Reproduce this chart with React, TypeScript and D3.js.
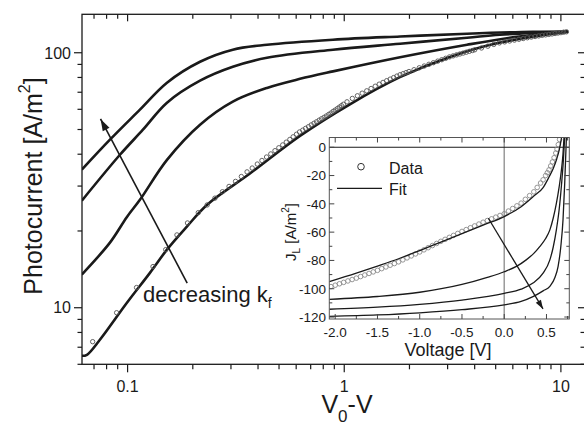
import React from 'react';
import * as d3 from 'd3';

// ---------- Main plot data (V0-V [V], photocurrent [A/m^2]) ----------
const curve1X = [0.0615, 0.0829, 0.114, 0.152, 0.216, 0.306, 0.44, 0.887, 1.81, 3.69, 7.43, 10.8];
const curve1Y = [34.8, 45.6, 59.8, 76.3, 92.2, 102.8, 107.5, 112.5, 115.8, 118.7, 120.9, 121.2];
const curve2X = [0.0615, 0.0922, 0.1177, 0.152, 0.216, 0.306, 0.44, 0.887, 1.81, 3.69, 5.23, 10.8];
const curve2Y = [26.3, 39.8, 49.9, 63.7, 77.7, 88.1, 95.6, 102.8, 108.5, 114.5, 117.7, 120.9];
const curve3X = [0.0615, 0.0829, 0.0993, 0.114, 0.152, 0.216, 0.306, 0.44, 0.625, 0.887, 1.81, 3.69, 6.27, 10.8];
const curve3Y = [13.5, 18.0, 22.7, 26.5, 38.0, 52.2, 64.3, 72.8, 79.0, 84.5, 96.0, 107.5, 115.5, 120.9];
const fitX = [0.0615, 0.0649, 0.0745, 0.0993, 0.1268, 0.152, 0.1878, 0.2323, 0.3671, 0.6246, 1.062, 1.807, 3.076, 5.234, 10.78];
const fitY = [6.48, 6.54, 7.49, 10.46, 13.7, 16.9, 20.8, 25.3, 33.6, 47.2, 62.8, 80.2, 96.3, 109.6, 120.9];

const mainDataX = [0.069, 0.089, 0.110, 0.131, 0.150, 0.169, 0.189, 0.212, 0.233, 0.253, 0.274, 0.294, 0.315, 0.335, 0.356, 0.376, 0.397, 0.417, 0.438, 0.458, 0.479, 0.499, 0.520, 0.540, 0.561, 0.581, 0.602, 0.622, 0.643, 0.663, 0.684, 0.704, 0.725, 0.745, 0.766, 0.786, 0.807, 0.827, 0.848, 0.868, 0.889, 0.909, 0.930, 0.950, 0.971, 0.991, 1.03, 1.09, 1.15, 1.21, 1.27, 1.33, 1.39, 1.45, 1.51, 1.57, 1.63, 1.69, 1.75, 1.81, 1.87, 1.93, 1.99, 2.1, 2.22, 2.34, 2.46, 2.58, 2.7, 2.82, 2.94, 3.06, 3.18, 3.3, 3.42, 3.54, 3.66, 3.78, 3.9, 4.0, 4.3, 4.6, 4.9, 5.2, 5.5, 5.8, 6.1, 6.4, 6.7, 7.0, 7.3, 7.6, 7.9, 8.2, 8.5, 8.8, 9.1, 9.4, 9.7, 10.0, 10.3, 10.6];
const mainDataY = [7.36, 9.56, 12.0, 14.5, 16.9, 19.3, 21.5, 23.6, 25.3, 26.9, 28.5, 29.9, 31.3, 32.7, 34.1, 35.3, 36.6, 37.8, 39.0, 40.1, 41.3, 42.4, 43.5, 44.6, 45.7, 46.8, 47.9, 48.9, 49.7, 50.5, 51.3, 52.1, 52.9, 53.6, 54.4, 55.1, 55.8, 56.5, 57.3, 58.0, 58.9, 59.6, 60.4, 61.2, 62.0, 62.8, 64.2, 66.2, 67.8, 69.4, 70.9, 72.4, 73.9, 75.3, 76.5, 77.7, 78.8, 79.9, 81.0, 82.0, 82.8, 83.6, 84.4, 85.8, 87.3, 88.7, 90.1, 91.4, 92.7, 93.9, 95.1, 96.3, 97.2, 98.1, 98.9, 99.7, 100.5, 101.3, 102.0, 102.7, 104.4, 106.1, 107.8, 109.3, 110.3, 111.2, 112.1, 112.9, 113.7, 114.5, 115.2, 115.8, 116.4, 117.0, 117.5, 118.0, 118.5, 119.0, 119.5, 119.9, 120.4, 120.8];

const mainXTickLabels = ['0.1', '1', '10'];
const mainYTickLabels = ['10', '100'];

// ---------- Inset data (Voltage [V], J_L [A/m^2]) ----------
const insetDataV = [-2.05, -2.0, -1.95, -1.9, -1.85, -1.8, -1.75, -1.7, -1.65, -1.6, -1.55, -1.5, -1.45, -1.4, -1.35, -1.3, -1.25, -1.2, -1.15, -1.1, -1.05, -1.0, -0.95, -0.9, -0.85, -0.8, -0.75, -0.7, -0.65, -0.6, -0.55, -0.5, -0.45, -0.4, -0.35, -0.3, -0.25, -0.2, -0.15, -0.1, -0.05, 0.0, 0.05, 0.1, 0.15, 0.2, 0.25, 0.3, 0.35, 0.39, 0.43, 0.46, 0.49, 0.51, 0.53, 0.55, 0.57, 0.59, 0.61, 0.625, 0.64, 0.655];
const insetDataJ = [-98.5, -97.5, -96.5, -95.5, -94.5, -93.5, -92.5, -91.4, -90.3, -89.2, -88.1, -87.0, -85.8, -84.6, -83.4, -82.2, -81.0, -79.6, -78.2, -76.8, -75.4, -74.0, -72.5, -71.0, -69.5, -68.0, -66.5, -65.1, -63.7, -62.3, -60.9, -59.5, -58.2, -56.9, -55.6, -54.3, -53.0, -51.8, -50.6, -49.4, -48.2, -47.0, -45.1, -43.3, -41.4, -39.5, -36.8, -34.2, -31.5, -28.4, -25.3, -23.0, -20.0, -18.0, -16.0, -13.2, -10.4, -7.4, -4.1, -1.4, 1.9, 5.5];

const fitAV = [-2.07, -1.75, -1.5, -1.25, -1.0, -0.75, -0.5, -0.25, 0.0, 0.2, 0.35, 0.46, 0.53, 0.58, 0.62, 0.65, 0.67, 0.68];
const fitAJ = [-95.0, -89.0, -84.0, -78.8, -73.0, -67.0, -61.0, -55.0, -49.0, -42.0, -34.5, -28.5, -21, -15, -8.5, -2, 4, 7.5];
const fitBV = [-2.07, -1.5, -1.0, -0.5, -0.2, 0.0, 0.15, 0.26, 0.35, 0.42, 0.49, 0.54, 0.58, 0.617, 0.65, 0.677, 0.695, 0.708];
const fitBJ = [-107.5, -105.5, -102.5, -97, -92, -88, -84, -79.6, -75, -70.2, -64.5, -58.4, -50, -39.6, -28, -16, -5, 7.5];
const fitCV = [-2.07, -1.5, -1.0, -0.5, 0.0, 0.2, 0.34, 0.46, 0.54, 0.58, 0.618, 0.65, 0.677, 0.698, 0.716];
const fitCJ = [-114.5, -113, -111, -108, -103.3, -100.3, -96, -89, -79.6, -70.5, -58, -44, -27, -11, 7.5];
const fitDV = [-2.07, -1.5, -1.0, -0.5, 0.0, 0.2, 0.34, 0.46, 0.54, 0.6, 0.637, 0.67, 0.696, 0.716, 0.736];
const fitDJ = [-119.5, -118.5, -117, -114.8, -111.4, -109, -105.6, -101.5, -98.3, -92, -84.3, -70, -51, -25, 7.5];

const insetXTicks = [-2.0, -1.5, -1.0, -0.5, 0.0, 0.5];
const insetYTicks = [0, -20, -40, -60, -80, -100, -120];
const legendLabels = ['Data', 'Fit'];

// annotation arrows (data coordinates)
const mainArrow = { x0: 0.1884, y0: 12.5, x1: 0.075, y1: 55.0 };
const insetArrow = { x0: -0.188, y0: -50.2, x1: 0.459, y1: -114.3 };

const FONT = "'Liberation Sans', Arial, Helvetica, sans-serif";
const INK = '#1a1a1a';

function zipPts(xs: number[], ys: number[]): [number, number][] {
  return xs.map((v, i) => [v, ys[i]] as [number, number]);
}

function arrowHead(x0: number, y0: number, x1: number, y1: number, len: number, half: number) {
  const dx = x1 - x0, dy = y1 - y0;
  const L = Math.hypot(dx, dy);
  const ux = dx / L, uy = dy / L;
  const bx = x1 - ux * len, by = y1 - uy * len;
  const px = -uy, py = ux;
  return `${x1},${y1} ${bx + px * half},${by + py * half} ${bx - px * half},${by - py * half}`;
}

export default function App() {
  const W = 584, H = 426;
  // main axes
  const L = 82, R = 585, T = 14.3, B = 364.3;
  const x = d3.scaleLog().domain([0.0616, 12.92]).range([L, R]);
  const y = d3.scaleLog().domain([6.0, 141.5]).range([B, T]);
  const line = d3.line<[number, number]>().x(d => x(d[0])).y(d => y(d[1])).curve(d3.curveCatmullRom.alpha(0.5));

  const xTicks = x.ticks();
  const yTicks = y.ticks();
  const isMajor = (v: number) => Math.abs(Math.log10(v) - Math.round(Math.log10(v))) < 1e-6;
  const xMajors = xTicks.filter(isMajor);
  const yMajors = yTicks.filter(isMajor);

  // inset axes
  const iL = 329.3, iR = 569.3, iT = 137.5, iB = 319;
  const ix = d3.scaleLinear().domain([-2.07, 0.77]).range([iL, iR]);
  const iy = d3.scaleLinear().domain([-121.4, 6.9]).range([iB, iT]);
  const iline = d3.line<[number, number]>().x(d => ix(d[0])).y(d => iy(d[1])).curve(d3.curveMonotoneX);
  const ixMinor = d3.range(-2.0, 0.76, 0.25);
  const iyMinor = d3.range(0, -121, -10);

  const mainCurves = [zipPts(curve1X, curve1Y), zipPts(curve2X, curve2Y), zipPts(curve3X, curve3Y), zipPts(fitX, fitY)];
  const insetCurves = [zipPts(fitAV, fitAJ), zipPts(fitBV, fitBJ), zipPts(fitCV, fitCJ), zipPts(fitDV, fitDJ)];

  const ma = { x0: x(mainArrow.x0), y0: y(mainArrow.y0), x1: x(mainArrow.x1), y1: y(mainArrow.y1) };
  const ia = { x0: ix(insetArrow.x0), y0: iy(insetArrow.y0), x1: ix(insetArrow.x1), y1: iy(insetArrow.y1) };

  return (
    <svg width={W} height={H} style={{ position: 'absolute', left: 0, top: 0, background: '#fff' }} fontFamily={FONT}>
      <defs>
        <clipPath id="mainClip"><rect x={L} y={T} width={R - L} height={B - T} /></clipPath>
        <clipPath id="insetClip"><rect x={iL} y={iT} width={iR - iL} height={iB - iT} /></clipPath>
      </defs>
      <rect x={0} y={0} width={W} height={H} fill="#fff" />

      {/* main curves */}
      <g clipPath="url(#mainClip)">
        {mainCurves.map((c, i) => (
          <path key={i} d={line(c) || ''} fill="none" stroke={INK} strokeWidth={2.6} strokeLinejoin="round" />
        ))}
        {mainDataX.map((v, i) => (
          <circle key={i} cx={x(v)} cy={y(mainDataY[i])} r={2.2} fill="none" stroke="#555" strokeWidth={0.9} />
        ))}
      </g>

      {/* main frame */}
      <rect x={L} y={T} width={R - L} height={B - T} fill="none" stroke={INK} strokeWidth={1.3} />
      {xTicks.map((v, i) => {
        const len = isMajor(v) ? 8 : 5;
        return (
          <g key={i}>
            <line x1={x(v)} x2={x(v)} y1={B} y2={B + len} stroke={INK} strokeWidth={1.2} />
            <line x1={x(v)} x2={x(v)} y1={T} y2={T + (isMajor(v) ? 7 : 4.5)} stroke={INK} strokeWidth={1.2} />
          </g>
        );
      })}
      {yTicks.map((v, i) => {
        const len = isMajor(v) ? 8 : 4.5;
        return (
          <g key={i}>
            <line x1={L - len} x2={L} y1={y(v)} y2={y(v)} stroke={INK} strokeWidth={1.2} />
            <line x1={R - (isMajor(v) ? 7 : 4.5)} x2={R} y1={y(v)} y2={y(v)} stroke={INK} strokeWidth={1.2} />
          </g>
        );
      })}
      {xMajors.map((v, i) => (
        <text key={i} x={x(v)} y={392} fontSize={16} textAnchor="middle" fill={INK}>{mainXTickLabels[i]}</text>
      ))}
      {yMajors.map((v, i) => (
        <text key={i} x={71} y={y(v)} dy="0.36em" fontSize={16} textAnchor="end" fill={INK}>{mainYTickLabels[i]}</text>
      ))}

      {/* axis titles */}
      <text x={347} y={413} fontSize={25} textAnchor="middle" fill={INK}>
        V<tspan fontSize={17} dy={9}>0</tspan><tspan dy={-9}>-V</tspan>
      </text>
      <text transform="translate(41.5,186) rotate(-90)" fontSize={25} textAnchor="middle" fill={INK}>
        Photocurrent [A/m<tspan fontSize={16} dy={-12}>2</tspan><tspan dy={12}>]</tspan>
      </text>

      {/* main annotation */}
      <line x1={ma.x0} y1={ma.y0} x2={ma.x1} y2={ma.y1} stroke={INK} strokeWidth={1.6} />
      <polygon points={arrowHead(ma.x0, ma.y0, ma.x1, ma.y1, 12, 3.8)} fill={INK} />
      <text x={143} y={302} fontSize={22} fill={INK}>
        decreasing k<tspan fontSize={14} dy={6}>f</tspan>
      </text>

      {/* inset */}
      <rect x={iL} y={iT} width={iR - iL} height={iB - iT} fill="#fff" />
      <g clipPath="url(#insetClip)">
        <line x1={ix(0)} x2={ix(0)} y1={iT} y2={iB} stroke="#9a9a9a" strokeWidth={1.5} />
        <line x1={iL} x2={iR} y1={iy(0)} y2={iy(0)} stroke={INK} strokeWidth={1} />
        {insetDataV.map((v, i) => (
          <circle key={i} cx={ix(v)} cy={iy(insetDataJ[i])} r={2.3} fill="none" stroke="#8a8a8a" strokeWidth={0.9} />
        ))}
        {insetCurves.map((c, i) => (
          <path key={i} d={iline(c) || ''} fill="none" stroke={INK} strokeWidth={1.3} />
        ))}
      </g>
      <rect x={iL} y={iT} width={iR - iL} height={iB - iT} fill="none" stroke="#555" strokeWidth={1} />
      {ixMinor.map((v, i) => {
        const major = Math.abs(v * 2 - Math.round(v * 2)) < 1e-6;
        const len = major ? 5 : 3;
        return (
          <g key={i}>
            <line x1={ix(v)} x2={ix(v)} y1={iB} y2={iB - len} stroke="#444" strokeWidth={1} />
            <line x1={ix(v)} x2={ix(v)} y1={iT} y2={iT + len} stroke="#444" strokeWidth={1} />
          </g>
        );
      })}
      {iyMinor.map((v, i) => {
        const major = v % 20 === 0;
        const len = major ? 5 : 3;
        return (
          <g key={i}>
            <line x1={iL} x2={iL + len} y1={iy(v)} y2={iy(v)} stroke="#444" strokeWidth={1} />
            <line x1={iR - len} x2={iR} y1={iy(v)} y2={iy(v)} stroke="#444" strokeWidth={1} />
          </g>
        );
      })}
      {insetXTicks.map((v, i) => (
        <text key={i} x={ix(v)} y={337} fontSize={13.5} textAnchor="middle" fill={INK}>{v.toFixed(1)}</text>
      ))}
      {insetYTicks.map((v, i) => (
        <text key={i} x={326} y={iy(v)} dy="0.36em" fontSize={13.5} textAnchor="end" fill={INK}>{String(v)}</text>
      ))}
      <text x={448} y={356} fontSize={18} textAnchor="middle" fill={INK}>Voltage [V]</text>
      <text transform="translate(296,232) rotate(-90)" fontSize={15} textAnchor="middle" fill={INK}>
        J<tspan fontSize={10} dy={4}>L</tspan><tspan dy={-4}> [A/m</tspan><tspan fontSize={10} dy={-7}>2</tspan><tspan dy={7}>]</tspan>
      </text>

      {/* legend */}
      <circle cx={361} cy={166.7} r={3.3} fill="none" stroke="#333" strokeWidth={1} />
      <text x={389} y={173.5} fontSize={16} fill={INK}>{legendLabels[0]}</text>
      <line x1={337} x2={382} y1={188.3} y2={188.3} stroke={INK} strokeWidth={1.3} />
      <text x={389} y={195} fontSize={16} fill={INK}>{legendLabels[1]}</text>

      {/* inset arrow */}
      <line x1={ia.x0} y1={ia.y0} x2={ia.x1} y2={ia.y1} stroke={INK} strokeWidth={1.3} />
      <polygon points={arrowHead(ia.x0, ia.y0, ia.x1, ia.y1, 9, 3)} fill={INK} />
    </svg>
  );
}
